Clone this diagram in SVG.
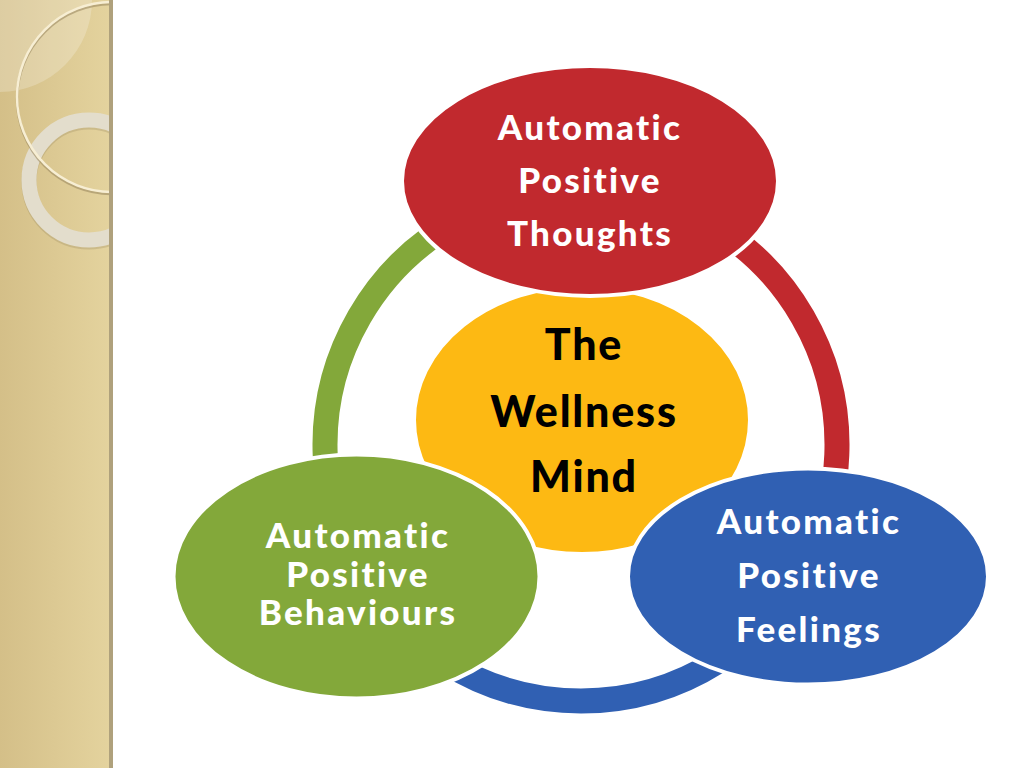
<svg xmlns="http://www.w3.org/2000/svg" width="1024" height="768" viewBox="0 0 1024 768">
<defs>
<linearGradient id="panel" x1="0" y1="0" x2="1" y2="0">
<stop offset="0" stop-color="#D4BF88"/>
<stop offset="1" stop-color="#E4D39E"/>
</linearGradient>
<clipPath id="pc"><rect x="0" y="0" width="111" height="768"/></clipPath>
</defs>
<style>
.arc{fill:none;stroke-width:25}
.node{stroke:#fff;stroke-width:4}
.lbl{font-family:Lato,"Liberation Sans",sans-serif;font-weight:900;text-anchor:middle;fill:#fff;font-size:35px;letter-spacing:2.3px;font-variant-ligatures:none}
.ctr{font-family:Lato,"Liberation Sans",sans-serif;font-weight:900;text-anchor:middle;fill:#000;font-size:43px;letter-spacing:1.8px;font-variant-ligatures:none}
</style>
<rect width="1024" height="768" fill="#fff"/>
<g id="panel-bg">
<rect x="0" y="0" width="111" height="768" fill="url(#panel)"/>
<g clip-path="url(#pc)">
<circle cx="0" cy="0" r="92" fill="#fff" opacity="0.22"/>
<circle cx="89" cy="182" r="60" fill="none" stroke="#8A7A55" stroke-width="15" opacity="0.25"/>
<circle cx="89" cy="180" r="60" fill="none" stroke="#E3DDCC" stroke-width="15"/>
<circle cx="112" cy="99" r="95" fill="none" stroke="#9C8B60" stroke-width="2.5" opacity="0.6"/>
<circle cx="112" cy="97" r="95" fill="none" stroke="#F7EED3" stroke-width="2.5"/>
</g>
<rect x="109" y="0" width="4" height="768" fill="#AFA17C"/>
</g>
<g id="connectors">
<path class="arc" stroke="#C1292E" d="M 581 189 A 256 256 0 0 1 802.7 573"/>
<path class="arc" stroke="#3060B3" d="M 802.7 573 A 256 256 0 0 1 359.3 573"/>
<path class="arc" stroke="#83A83A" d="M 359.3 573 A 256 256 0 0 1 581 189"/>
</g>
<g id="center">
<ellipse class="node" cx="582" cy="420" rx="168" ry="134" fill="#FDB913"/>
<text class="ctr" x="584" y="360">The</text>
<text class="ctr" x="584" y="427">Wellness</text>
<text class="ctr" x="584" y="492">Mind</text>
</g>
<g id="thoughts">
<ellipse class="node" cx="590" cy="181" rx="188" ry="115" fill="#C1292E"/>
<text class="lbl" x="590" y="140">Automatic</text>
<text class="lbl" x="590" y="193">Positive</text>
<text class="lbl" x="590" y="246">Thoughts</text>
</g>
<g id="behaviours">
<ellipse class="node" cx="356.5" cy="576.5" rx="183" ry="122" fill="#83A83A"/>
<text class="lbl" x="358" y="548">Automatic</text>
<text class="lbl" x="358" y="587">Positive</text>
<text class="lbl" x="358" y="625">Behaviours</text>
</g>
<g id="feelings">
<ellipse class="node" cx="808" cy="576.5" rx="180" ry="108" fill="#3060B3"/>
<text class="lbl" x="809" y="534">Automatic</text>
<text class="lbl" x="809" y="588">Positive</text>
<text class="lbl" x="809" y="642">Feelings</text>
</g>
</svg>
